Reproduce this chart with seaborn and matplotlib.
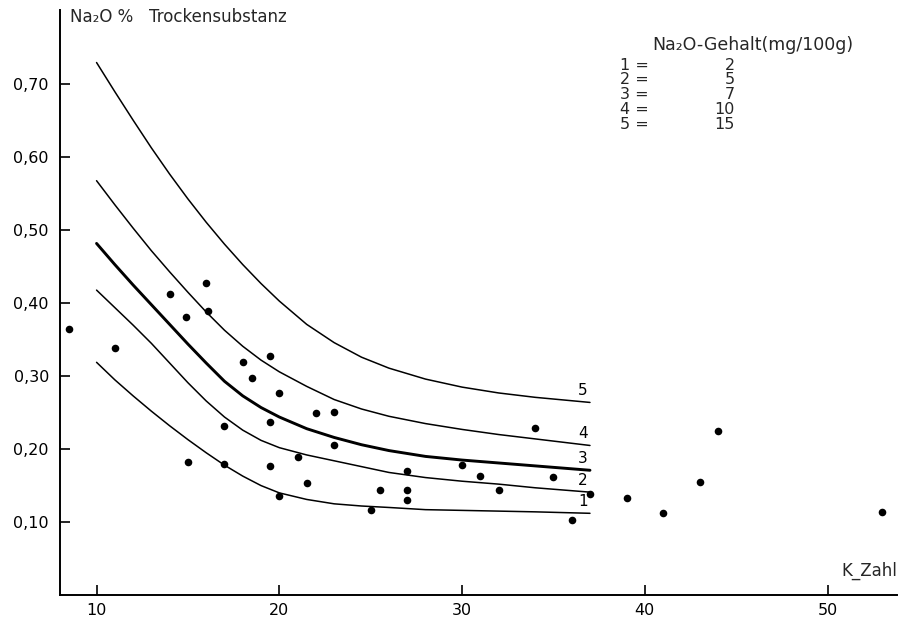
import numpy as np
import pandas as pd
import matplotlib
matplotlib.use("Agg")
import matplotlib.pyplot as plt
import seaborn as sns

# ---- data ----
curve_x = [10, 11, 12, 13, 14, 15, 16, 17, 18, 19, 20, 21.5, 23, 24.5, 26, 28, 30, 32, 34, 37]
curve_1 = [0.319, 0.295, 0.273, 0.252, 0.232, 0.213, 0.195, 0.178, 0.163, 0.150, 0.140,
           0.131, 0.125, 0.122, 0.120, 0.117, 0.116, 0.115, 0.114, 0.112]
curve_2 = [0.418, 0.394, 0.370, 0.345, 0.318, 0.291, 0.266, 0.244, 0.226, 0.212, 0.202,
           0.192, 0.184, 0.176, 0.168, 0.161, 0.156, 0.152, 0.147, 0.141]
curve_3 = [0.482, 0.453, 0.425, 0.398, 0.371, 0.344, 0.318, 0.293, 0.273, 0.257, 0.244,
           0.228, 0.216, 0.206, 0.198, 0.190, 0.185, 0.181, 0.177, 0.171]
curve_4 = [0.568, 0.535, 0.503, 0.472, 0.443, 0.415, 0.388, 0.363, 0.341, 0.322, 0.306,
           0.286, 0.268, 0.255, 0.245, 0.235, 0.227, 0.220, 0.214, 0.205]
curve_5 = [0.730, 0.690, 0.651, 0.613, 0.577, 0.543, 0.511, 0.481, 0.453, 0.427, 0.403,
           0.371, 0.346, 0.326, 0.311, 0.296, 0.285, 0.277, 0.271, 0.264]
curve_names = ["1", "2", "3", "4", "5"]

point_x = [8.5, 11.0, 14.0, 16.0, 14.9, 16.1, 18.0, 17.0, 15.0, 17.0,
           19.5, 18.5, 20.0, 22.0, 23.0, 19.5, 23.0, 21.0, 19.5, 21.5,
           20.0, 27.0, 25.5, 27.0, 27.0, 25.0, 30.0, 31.0, 32.0, 34.0,
           35.0, 36.0, 37.0, 39.0, 41.0, 43.0, 44.0, 53.0]
point_y = [0.364, 0.339, 0.412, 0.428, 0.381, 0.389, 0.319, 0.232, 0.182, 0.179,
           0.328, 0.297, 0.277, 0.250, 0.251, 0.237, 0.205, 0.189, 0.177, 0.154,
           0.136, 0.170, 0.144, 0.144, 0.130, 0.117, 0.178, 0.163, 0.144, 0.229,
           0.162, 0.103, 0.139, 0.133, 0.112, 0.155, 0.225, 0.114]

y_ticks = [0.10, 0.20, 0.30, 0.40, 0.50, 0.60, 0.70]
y_ticklabels = ["0,10", "0,20", "0,30", "0,40", "0,50", "0,60", "0,70"]
x_ticks = [10, 20, 30, 40, 50]
x_ticklabels = ["10", "20", "30", "40", "50"]

legend_title = "Na\u2082O-Gehalt(mg/100g)"
legend_keys = ["1 =", "2 =", "3 =", "4 =", "5 ="]
legend_vals = ["2", "5", "7", "10", "15"]

# ---- build frames ----
curves = pd.DataFrame({
    "x": curve_x * 5,
    "y": curve_1 + curve_2 + curve_3 + curve_4 + curve_5,
    "curve": sum([[n] * len(curve_x) for n in curve_names], []),
})
points = pd.DataFrame({"x": point_x, "y": point_y})

sns.set_theme(style="white")
plt.rcParams["font.family"] = ["DejaVu Sans"]

fig = plt.figure(figsize=(9.08, 6.2), dpi=100)
ax = fig.add_axes([60 / 908, 25 / 620, 837 / 908, 585 / 620])

widths = {"1": 1.1, "2": 1.1, "3": 2.1, "4": 1.1, "5": 1.1}
for name in curve_names:
    sub = curves[curves["curve"] == name]
    sns.lineplot(data=sub, x="x", y="y", ax=ax, color="black",
                 linewidth=widths[name], legend=False)
    ax.text(sub["x"].iloc[-1] - 0.4, sub["y"].iloc[-1] + 0.006, name,
            ha="center", va="bottom", fontsize=11, color="black")

sns.scatterplot(data=points, x="x", y="y", ax=ax, color="black", s=30,
                edgecolor="black", linewidth=0, legend=False, zorder=3)

ax.set_xlim(8.0, 53.8)
ax.set_ylim(0.0, 0.802)
ax.set_xticks(x_ticks)
ax.set_xticklabels(x_ticklabels, fontsize=11.5)
ax.set_yticks(y_ticks)
ax.set_yticklabels(y_ticklabels, fontsize=11.5)
ax.tick_params(axis="both", direction="in", length=7, width=1.2, colors="black",
               left=True, bottom=True)
ax.tick_params(axis="y", pad=8)
ax.tick_params(axis="x", pad=6)
ax.set_xlabel("")
ax.set_ylabel("")
for side in ["top", "right"]:
    ax.spines[side].set_visible(False)
for side in ["left", "bottom"]:
    ax.spines[side].set_color("black")
    ax.spines[side].set_linewidth(1.4)

# axis titles
fig.text(70 / 908, 1 - 17 / 620, "Na\u2082O %   Trockensubstanz", fontsize=12,
         ha="left", va="center")
fig.text(897 / 908, 1 - 571 / 620, "K_Zahl", fontsize=12, ha="right", va="center")

# legend block
fig.text(652 / 908, 1 - 45 / 620, legend_title, fontsize=12.5, ha="left", va="center")
for i, (k, v) in enumerate(zip(legend_keys, legend_vals)):
    yy = 1 - (65 + 14.8 * i) / 620
    fig.text(620 / 908, yy, k, fontsize=11.5, ha="left", va="center")
    fig.text(735 / 908, yy, v, fontsize=11.5, ha="right", va="center")

fig.savefig("out.png", dpi=100, facecolor="white")
